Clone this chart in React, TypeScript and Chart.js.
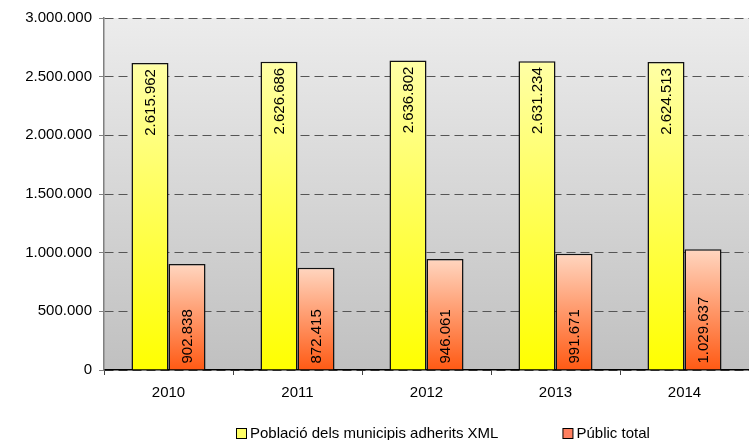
import React, { useEffect, useRef } from "react";
import { Chart, registerables } from "chart.js";

Chart.register(...registerables);

const years = ["2010", "2011", "2012", "2013", "2014"];
const poblacio = [2615962, 2626686, 2636802, 2631234, 2624513];
const publicTotal = [902838, 872415, 946061, 991671, 1029637];
const seriesNames = ["Població dels municipis adherits XML", "Públic total"];

const FONT = "'Liberation Sans', Arial, sans-serif";

function fmt(n: number): string {
  return String(Math.round(n)).replace(/\B(?=(\d{3})+(?!\d))/g, ".");
}

function barGradient(top: string, bottom: string) {
  return (ctx: any) => {
    const chart = ctx.chart;
    const area = chart.chartArea;
    if (!area || ctx.raw == null) return top;
    const y = chart.scales.y;
    const yTop = y.getPixelForValue(ctx.raw);
    const yBot = y.getPixelForValue(0);
    const g = chart.ctx.createLinearGradient(0, yTop, 0, yBot);
    g.addColorStop(0, top);
    g.addColorStop(1, bottom);
    return g;
  };
}

const bgPlugin = {
  id: "bgPlugin",
  beforeDraw(chart: any) {
    const { ctx, chartArea: a } = chart;
    if (!a) return;
    const g = ctx.createLinearGradient(0, a.top, 0, a.bottom);
    g.addColorStop(0, "#ececec");
    g.addColorStop(1, "#c0c0c0");
    ctx.save();
    ctx.fillStyle = g;
    ctx.fillRect(a.left, a.top, a.right - a.left, a.bottom - a.top);
    ctx.restore();
  },
};

const labelPlugin = {
  id: "labelPlugin",
  afterDatasetsDraw(chart: any) {
    const { ctx } = chart;
    ctx.save();
    ctx.font = `15px ${FONT}`;
    ctx.fillStyle = "#000";
    ctx.textBaseline = "middle";
    chart.data.datasets.forEach((ds: any, di: number) => {
      const meta = chart.getDatasetMeta(di);
      meta.data.forEach((el: any, i: number) => {
        const v = ds.data[i];
        const text = fmt(v);
        ctx.save();
        if (di === 0) {
          ctx.translate(el.x, el.y + 6);
          ctx.rotate(-Math.PI / 2);
          ctx.textAlign = "right";
        } else {
          ctx.translate(el.x, el.base - 6);
          ctx.rotate(-Math.PI / 2);
          ctx.textAlign = "left";
        }
        ctx.fillText(text, 0, 1);
        ctx.restore();
      });
    });
    ctx.restore();
  },
};

const legendPlugin = {
  id: "legendPlugin",
  afterDraw(chart: any) {
    const { ctx, chartArea: a } = chart;
    ctx.save();
    ctx.font = `15px ${FONT}`;
    ctx.textBaseline = "middle";
    ctx.textAlign = "left";
    const fills = ["#ffff66", "#ff8060"];
    const y = 434;
    let x = a.left + 132;
    seriesNames.forEach((name, i) => {
      ctx.fillStyle = fills[i];
      ctx.fillRect(x + 0.5, y - 5.5, 10, 10);
      ctx.strokeStyle = "#000";
      ctx.lineWidth = 1;
      ctx.strokeRect(x + 0.5, y - 5.5, 10, 10);
      ctx.fillStyle = "#000";
      ctx.fillText(name, x + 14, y);
      x += 14 + ctx.measureText(name).width + 64;
    });
    ctx.restore();
  },
};

export default function App() {
  const ref = useRef<HTMLCanvasElement | null>(null);
  useEffect(() => {
    if (!ref.current) return;
    const chart = new Chart(ref.current, {
      type: "bar",
      data: {
        labels: years,
        datasets: [
          {
            label: seriesNames[0],
            data: poblacio,
            backgroundColor: barGradient("#ffffa6", "#ffff00"),
            borderColor: "#111",
            borderWidth: 1.5,
            categoryPercentage: 0.574,
            barPercentage: 1.0,
          },
          {
            label: seriesNames[1],
            data: publicTotal,
            backgroundColor: barGradient("#ffd6c0", "#ff5a14"),
            borderColor: "#111",
            borderWidth: 1.5,
            categoryPercentage: 0.574,
            barPercentage: 1.0,
          },
        ],
      },
      plugins: [bgPlugin, labelPlugin, legendPlugin],
      options: {
        responsive: false,
        animation: false,
        devicePixelRatio: 1,
        layout: { padding: { top: 18, right: 0, bottom: 0, left: 0 } },
        plugins: {
          legend: { display: false },
          tooltip: { enabled: false },
        },
        scales: {
          x: {
            offset: true,
            grid: {
              display: true,
              offset: true,
              drawOnChartArea: false,
              drawTicks: true,
              tickLength: 5,
              tickColor: "#444",
            },
            border: { display: true, color: "#000", width: 1.5 },
            ticks: {
              color: "#000",
              font: { family: FONT, size: 15 },
              padding: 9,
            },
            afterFit(scale: any) {
              scale.height = 70;
            },
          },
          y: {
            min: 0,
            max: 3000000,
            ticks: {
              stepSize: 500000,
              color: "#000",
              font: { family: FONT, size: 15 },
              padding: 7,
              callback: (v: any) => fmt(Number(v)),
            },
            grid: {
              color: "#555",
              lineWidth: 1,
              tickLength: 5,
              tickColor: "#808080",
              tickBorderDash: [],
            },
            border: { display: true, color: "#808080", width: 1.5, dash: [9, 5] },
            afterFit(scale: any) {
              scale.width = 104;
            },
          },
        },
      },
    });
    return () => chart.destroy();
  }, []);
  return (
    <div style={{ position: "fixed", left: 0, top: 0, width: 749, height: 440, background: "#fff" }}>
      <canvas ref={ref} width={749} height={440} style={{ width: 749, height: 440 }} />
    </div>
  );
}
